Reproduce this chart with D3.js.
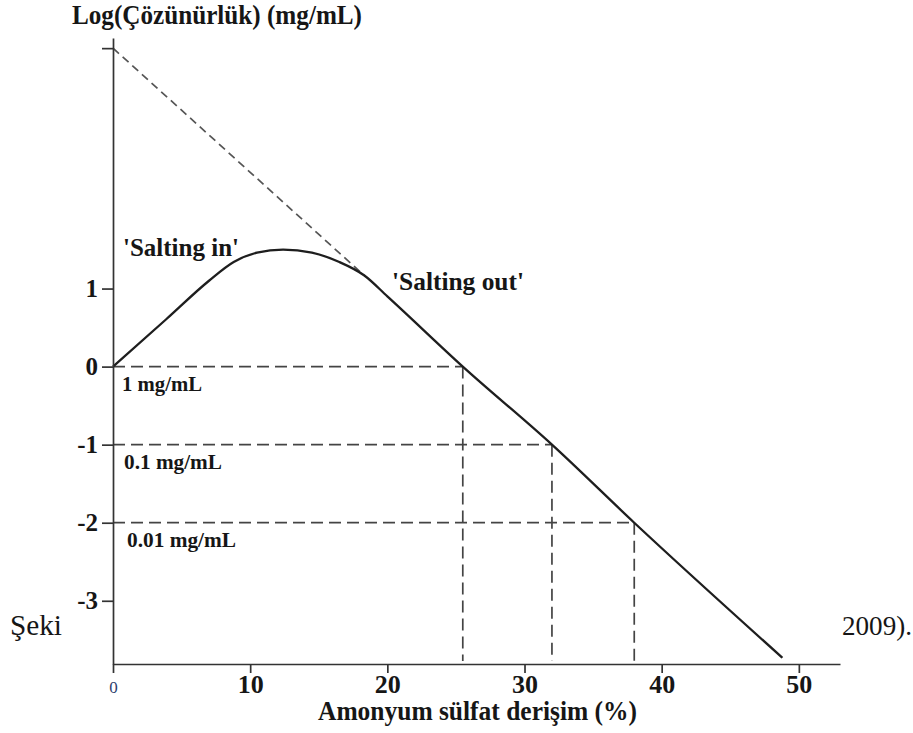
<!DOCTYPE html>
<html>
<head>
<meta charset="utf-8">
<script src="https://cdn.jsdelivr.net/npm/d3@7"></script>
<style>
  body { margin: 0; background: #fff; }
  svg text { font-family: "Liberation Serif", "DejaVu Serif", serif !important; }
</style>
</head>
<body>
<div id="chart"></div>
<script>
// solubility curve (x = % ammonium sulfate, y = log solubility)
const curveX = [0, 3.9, 7, 8.8, 10.5, 12.4, 14.5, 16.5, 18.3, 20, 25.5, 32, 38, 48.8]
const curveY = [0, 0.61, 1.1, 1.34, 1.46, 1.5, 1.46, 1.34, 1.17, 0.9, 0, -1, -2, -3.73]

// extrapolated salting-out line back to the y axis
const extrapX = [0, 18.3]
const extrapY = [4.08, 1.17]

// reference levels and where they meet the curve
const levelY = [0, -1, -2]
const levelX = [25.5, 32, 38]
const levelLabels = ["1 mg/mL", "0.1 mg/mL", "0.01 mg/mL"]

const xTicks = [0, 10, 20, 30, 40, 50]
const yTicks = [-3, -2, -1, 0, 1, 4.08]
const yTickLabels = ["-3", "-2", "-1", "0", "1", ""]

const X_DOMAIN = [0, 53]
const Y_DOMAIN = [-3.81, 4.21]

const MARGIN = {top: 38, right: 73, bottom: 69, left: 113}
const WIDTH = 913 - MARGIN.left - MARGIN.right
const HEIGHT = 733 - MARGIN.top - MARGIN.bottom
const INK = "#161616"

const root = d3.select("#chart").append("svg")
  .attr("width", 913)
  .attr("height", 733)

// small helper: text squeezed to the width it has in the figure
function label(parent, str, px, py, size, len, bold) {
  return parent.append("text")
    .attr("x", px).attr("y", py)
    .attr("textLength", len)
    .attr("lengthAdjust", "spacingAndGlyphs")
    .style("font-size", size + "px")
    .style("font-weight", bold ? "bold" : "normal")
    .style("fill", INK)
    .text(str)
}

// caption fragments peeking out behind the figure
label(root, "Şeki", 10, 635, 29, 52, false)
label(root, "2009).", 842, 635, 28, 70, false)

const svg = root.append("g")
  .attr("transform", "translate(" + MARGIN.left + "," + MARGIN.top + ")")

const x = d3.scaleLinear().domain(X_DOMAIN).range([0, WIDTH])
const y = d3.scaleLinear().domain(Y_DOMAIN).range([HEIGHT, 0])

// dashed guides
const labelDx = [9, 11, 14]
const labelLen = [80, 98, 109]
levelY.forEach((lv, i) => {
  svg.append("line")
    .attr("x1", x(0)).attr("x2", x(levelX[i]))
    .attr("y1", y(lv)).attr("y2", y(lv))
    .attr("stroke", "#444").attr("stroke-width", 1.7)
    .attr("stroke-dasharray", "12,6")
  svg.append("line")
    .attr("x1", x(levelX[i])).attr("x2", x(levelX[i]))
    .attr("y1", y(lv)).attr("y2", HEIGHT - 3)
    .attr("stroke", "#444").attr("stroke-width", 1.7)
    .attr("stroke-dasharray", "12,6")
  label(svg, levelLabels[i], x(0) + labelDx[i], y(lv) + 24.5, 22, labelLen[i], true)
})

const line = d3.line()
  .x(d => x(d[0]))
  .y(d => y(d[1]))

svg.append("path")
  .datum(extrapX.map((v, i) => [v, extrapY[i]]))
  .attr("d", line)
  .attr("fill", "none")
  .attr("stroke", "#555").attr("stroke-width", 1.7)
  .attr("stroke-dasharray", "8,5")

svg.append("path")
  .datum(curveX.map((v, i) => [v, curveY[i]]))
  .attr("d", line.curve(d3.curveMonotoneX))
  .attr("fill", "none")
  .attr("stroke", "#1e1e1e").attr("stroke-width", 2.3)

// axes
const yAxis = svg.append("g")
  .call(d3.axisLeft(y)
    .tickValues(yTicks)
    .tickSize(11)
    .tickSizeOuter(0)
    .tickPadding(4)
    .tickFormat((d, i) => yTickLabels[i]))
yAxis.selectAll("text")
  .attr("dy", "0.3em")
  .style("font-size", "25px").style("font-weight", "bold")
  .style("fill", INK)

const xAxis = svg.append("g")
  .attr("transform", "translate(0," + HEIGHT + ")")
  .call(d3.axisBottom(x)
    .tickValues(xTicks)
    .tickSize(9)
    .tickSizeOuter(0)
    .tickFormat(d => String(d)))
xAxis.selectAll("text")
  .attr("y", 28.5).attr("dy", 0)
  .style("font-size", d => d === 0 ? "17px" : "26px")
  .style("font-weight", d => d === 0 ? "normal" : "bold")
  .style("fill", d => d === 0 ? "#2e3f6e" : INK)

svg.selectAll(".domain, .tick line")
  .attr("stroke", "#333").attr("stroke-width", 1.7)

// titles and region labels
label(svg, "Log(Çözünürlük) (mg/mL)", 72 - MARGIN.left, 24 - MARGIN.top, 27, 290, true)
label(svg, "Amonyum sülfat derişim (%)", 318 - MARGIN.left, 720 - MARGIN.top, 27, 319, true)
label(svg, "'Salting in'", x(0) + 10, 256 - MARGIN.top, 26, 116, true)
label(svg, "'Salting out'", 392 - MARGIN.left, 290 - MARGIN.top, 26, 132, true)
</script>
</body>
</html>
